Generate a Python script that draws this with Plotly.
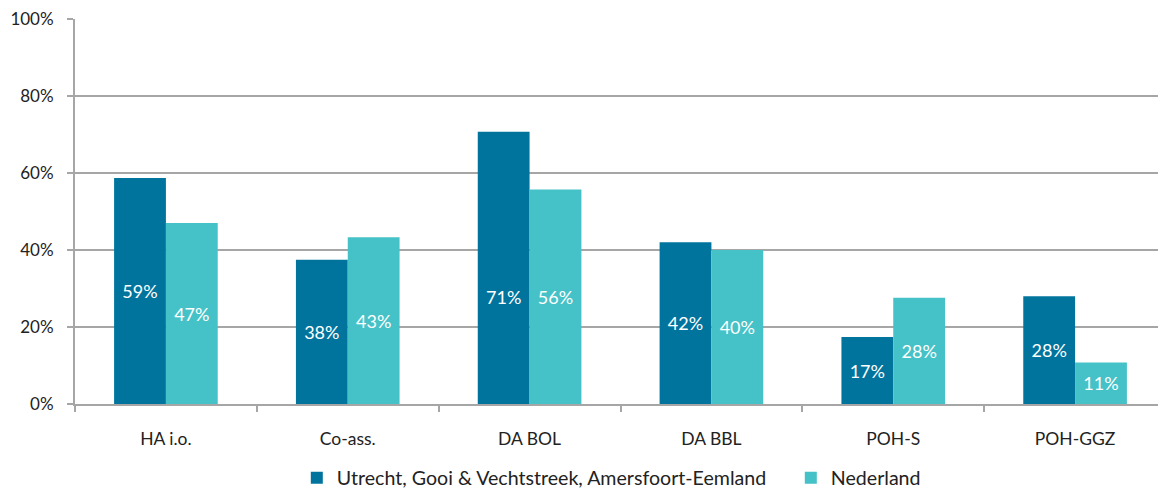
import plotly.graph_objects as go

categories = ["HA i.o.", "Co-ass.", "DA BOL", "DA BBL", "POH-S", "POH-GGZ"]
regio_name = "Utrecht, Gooi & Vechtstreek, Amersfoort-Eemland"
nl_name = "Nederland"
regio_values = [58.7, 37.5, 70.7, 42.0, 17.4, 28.0]
nl_values = [47.0, 43.3, 55.7, 40.0, 27.6, 10.8]
regio_labels = ["59%", "38%", "71%", "42%", "17%", "28%"]
nl_labels = ["47%", "43%", "56%", "40%", "28%", "11%"]
y_ticks = [0, 20, 40, 60, 80, 100]
y_tick_labels = ["0%", "20%", "40%", "60%", "80%", "100%"]

FONT = "Lato, 'Open Sans', sans-serif"
DARK = "#01749E"
TEAL = "#45C2C7"
GRID = "#A6A6A6"
BARGAP = 0.43

# In the original, the "71%" label of DA BOL sits level with the Nederland label
# instead of at the middle of its own bar.
shifted_idx = categories.index("DA BOL")
regio_text = [t if i != shifted_idx else "" for i, t in enumerate(regio_labels)]

fig = go.Figure()
fig.add_trace(go.Bar(x=categories, y=regio_values, name=regio_name, marker_color=DARK,
                     marker_line_width=0, text=regio_text, textposition="inside",
                     insidetextanchor="middle", textangle=0,
                     textfont=dict(color="white", size=18, family=FONT)))
fig.add_trace(go.Bar(x=categories, y=nl_values, name=nl_name, marker_color=TEAL,
                     marker_line_width=0, text=nl_labels, textposition="inside",
                     insidetextanchor="middle", textangle=0,
                     textfont=dict(color="white", size=18, family=FONT)))

W, H = 1158, 483
L, R, T, B = 67, 0, 11, 87
cat_w = (W - L - R) / len(categories)
bar_w = cat_w * (1 - BARGAP) / 2
fig.add_annotation(x=categories[shifted_idx], y=nl_values[shifted_idx] / 2,
                   text=regio_labels[shifted_idx], showarrow=False,
                   xshift=-bar_w / 2, font=dict(color="white", size=18, family=FONT))

# page body has an 8px margin, so the figure is offset by 8px
fig.update_layout(
    width=W, height=H,
    margin=dict(l=L, r=R, t=T, b=B, autoexpand=False),
    paper_bgcolor="white", plot_bgcolor="white",
    barmode="group", bargap=BARGAP, bargroupgap=0,
    font=dict(family=FONT, size=16, color="#222222"),
    showlegend=True,
    legend=dict(orientation="h", xref="container", yref="paper",
                x=0.676, y=-0.192, xanchor="center", yanchor="middle",
                font=dict(size=19.6, color="#222222"), itemwidth=30,
                entrywidth=449,
                traceorder="normal", itemsizing="constant"),
)
fig.update_xaxes(showline=True, linecolor=GRID, linewidth=2, ticks="outside",
                 tickson="boundaries", ticklen=6, tickcolor=GRID, tickwidth=2,
                 tickfont=dict(size=17.5, color="#222222"), showgrid=False,
                 automargin=False, ticklabelstandoff=18)
fig.update_yaxes(range=[0, 100], tickvals=y_ticks, ticktext=y_tick_labels,
                 showline=True, linecolor=GRID, linewidth=2, ticks="outside",
                 ticklen=6, tickcolor=GRID, tickwidth=2, showgrid=True,
                 gridcolor=GRID, gridwidth=1.5, zeroline=False,
                 tickfont=dict(size=17, color="#222222"),
                 automargin=False, ticklabelstandoff=10,
                 ticklabeloverflow="allow")

fig.write_html("out.html")
